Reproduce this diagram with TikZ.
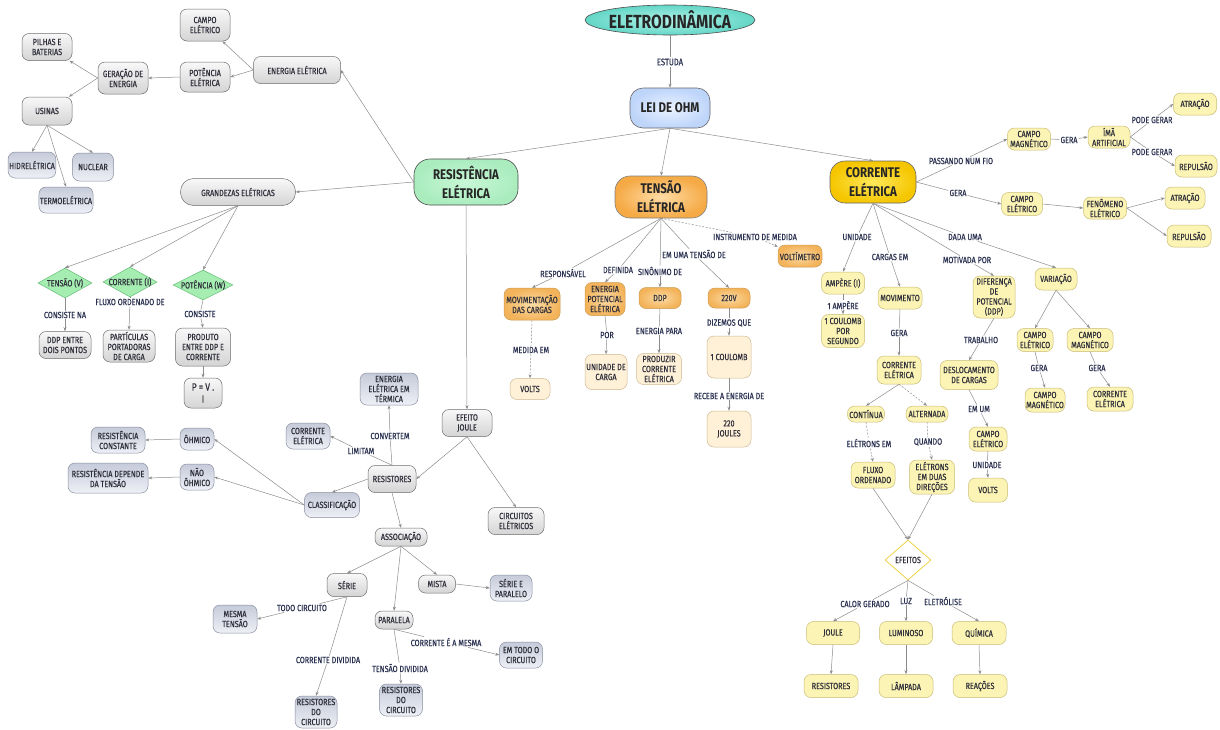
\documentclass[tikz,border=0pt]{standalone}
\usepackage{fontspec}
\newfontfamily\hand{Fira Sans}[FakeStretch=0.8,FakeBold=0.35]
\newfontfamily\handb{Fira Sans}[FakeStretch=0.82]
\usetikzlibrary{shapes.geometric,arrows.meta}
\definecolor{txt}{HTML}{2E2F3A}
\definecolor{ltxt}{HTML}{2A3050}
\definecolor{lnc}{HTML}{8C8C8C}
\definecolor{gbd}{HTML}{6E6E6E}
\definecolor{gtop}{HTML}{F8F8F8}
\definecolor{gbot}{HTML}{D4D4D4}
\definecolor{bbd}{HTML}{8A8FA0}
\definecolor{btop}{HTML}{C6CBDA}
\definecolor{bbot}{HTML}{EEF0F6}
\definecolor{ybd}{HTML}{C9BC74}
\definecolor{yfill}{HTML}{FCF4B4}
\definecolor{obd}{HTML}{C99A50}
\definecolor{oin}{HTML}{FCDCA6}
\definecolor{oout}{HTML}{F3B35A}
\definecolor{cbd}{HTML}{CDB991}
\definecolor{cfill}{HTML}{FFF0D8}
\definecolor{gdia}{HTML}{A6EDB2}
\definecolor{gdiad}{HTML}{62BD75}
\definecolor{efd}{HTML}{F0D34A}
\definecolor{tealin}{HTML}{B4F3EA}
\definecolor{tealout}{HTML}{63D6C6}
\definecolor{bluein}{HTML}{EAF2FF}
\definecolor{blueout}{HTML}{BED5FA}
\definecolor{grnin}{HTML}{C8F8D6}
\definecolor{grnout}{HTML}{AAECBE}
\definecolor{orin}{HTML}{FFDCA5}
\definecolor{orout}{HTML}{F5AA46}
\definecolor{goldin}{HTML}{FFE85A}
\definecolor{goldout}{HTML}{F5C600}
\tikzset{
 base/.style={font=\hand\fontsize{9}{10}\selectfont, align=center, inner sep=1pt, text=txt, line width=0.5pt},
 gbox/.style={base, rounded corners=7pt, draw=gbd, top color=gtop, bottom color=gbot},
 bbox/.style={base, rounded corners=7pt, draw=bbd, top color=btop, bottom color=bbot},
 ybox/.style={base, rounded corners=7pt, draw=ybd, fill=yfill},
 obox/.style={base, rounded corners=7pt, draw=obd, inner color=oin, outer color=oout},
 cbox/.style={base, rounded corners=7pt, draw=cbd, fill=cfill},
 mainbox/.style={font=\handb\bfseries\fontsize{14}{19}\selectfont, align=center, text=black!85, inner sep=2pt, line width=0.6pt},
 dia/.style={diamond, draw=gdiad, fill=gdia, inner sep=0pt, line width=0.5pt},
 lbl/.style={font=\hand\fontsize{9}{10}\selectfont, text=ltxt, inner sep=1pt},
 ln/.style={draw=lnc, line width=0.5pt},
 arr/.style={ln, -{Stealth[length=4pt,width=3pt]}},
 dsh/.style={dash pattern=on 2pt off 1.5pt},
}
\newcommand\mkN[7]{\node[#1, minimum width=#5pt, minimum height=#6pt] (#2) at (#3,#4) {#7};}
\newcommand\mkL[4]{\node[lbl] (#1) at (#2,#3) {#4};}
\newcommand\mkE[3][]{\draw[arr,#1] (#2) -- (#3);}
\newcommand\mkEL[4][]{\draw[ln,#1] (#2) -- (#3); \draw[arr,#1] (#3) -- (#4);}
\begin{document}
\begin{tikzpicture}[x=1pt,y=-1pt]
\useasboundingbox[fill=white] (0,0) rectangle (1220,729);

% ---- main nodes
\node[ellipse, draw=black!70, line width=0.6pt, inner color=tealin, outer color=tealout, minimum width=170pt, minimum height=30pt, inner sep=0pt,
  label={[font=\handb\bfseries\fontsize{19}{20}\selectfont, text=black!85]center:ELETRODINÂMICA}] (eletro) at (670,20) {};
\node[mainbox, draw=black!60, rounded corners=13pt, inner color=bluein, outer color=blueout, minimum width=80pt, minimum height=40pt] (lei) at (670,108) {LEI DE OHM};
\node[mainbox, draw=black!70, rounded corners=16pt, inner color=grnin, outer color=grnout, minimum width=104pt, minimum height=46pt] (res) at (466,182) {RESISTÊNCIA\\ELÉTRICA};
\node[mainbox, draw=black!50, rounded corners=15pt, inner color=orin, outer color=orout, minimum width=92pt, minimum height=42pt] (ten) at (661,197) {TENSÃO\\ELÉTRICA};
\node[mainbox, draw=black!60, rounded corners=15pt, inner color=goldin, outer color=goldout, minimum width=86pt, minimum height=42pt] (cor) at (873,182) {CORRENTE\\ELÉTRICA};

% ---- top left
\mkN{gbox}{enel}{297}{70}{87}{27}{ENERGIA ELÉTRICA}
\mkN{gbox}{campo1}{205}{25}{50}{32}{CAMPO\\ELÉTRICO}
\mkN{gbox}{pot1}{205}{77}{50}{30}{POTÊNCIA\\ELÉTRICA}
\mkN{gbox}{ger}{123}{78}{50}{32}{GERAÇÃO DE\\ENERGIA}
\mkN{gbox}{pilhas}{47}{47}{50}{27}{PILHAS E\\BATERIAS}
\mkN{gbox}{usinas}{47}{111}{50}{28}{USINAS}
\mkN{bbox}{hid}{32}{165}{45}{26}{HIDRELÉTRICA}
\mkN{bbox}{nuc}{93}{167}{41}{28}{NUCLEAR}
\mkN{bbox}{termo}{66}{200}{43}{26}{TERMOELÉTRICA}
\mkN{gbox,rounded corners=13pt}{grand}{238}{192}{115}{27}{GRANDEZAS ELÉTRICAS}

\node[dia, minimum width=54pt, minimum height=30pt, label={[base]center:TENSÃO (V)}] (tv) at (65,283) {};
\node[dia, minimum width=54pt, minimum height=30pt, label={[base]center:CORRENTE (I)}] (ti) at (130,282) {};
\node[dia, minimum width=60pt, minimum height=30pt, label={[base]center:POTÊNCIA (W)}] (tw) at (203,285) {};
\mkN{gbox}{ddp2}{65}{345}{52}{27}{DDP ENTRE\\DOIS PONTOS}
\mkN{gbox}{part}{129}{346}{52}{32}{PARTÍCULAS\\PORTADORAS\\DE CARGA}
\mkN{gbox}{prod}{203}{347}{55}{38}{PRODUTO\\ENTRE DDP E\\CORRENTE}
\mkN{gbox,font=\hand\fontsize{10.5}{12}\selectfont}{pvi}{203}{393}{38}{30}{P = V .\\I}

% ---- lower left
\mkN{bbox}{rconst}{118}{440}{54}{26}{RESISTÊNCIA\\CONSTANTE}
\mkN{bbox}{ohm}{197}{439}{34}{22}{ÔHMICO}
\mkN{bbox}{rdep}{108}{478}{80}{30}{RESISTÊNCIA DEPENDE\\DA TENSÃO}
\mkN{bbox}{nohm}{197}{477}{34}{26}{NÃO\\ÔHMICO}
\mkN{bbox}{classif}{332}{505}{55}{25}{CLASSIFICAÇÃO}
\mkN{gbox}{resist}{392}{479}{48}{27}{RESISTORES}
\mkN{bbox}{eterm}{389}{389}{58}{32}{ENERGIA\\ELÉTRICA EM\\TÉRMICA}
\mkN{bbox}{cor2}{308}{436}{44}{26}{CORRENTE\\ELÉTRICA}
\mkN{gbox}{ejoule}{467}{423}{50}{27}{EFEITO\\JOULE}
\mkN{gbox}{circ}{516}{521}{56}{27}{CIRCUITOS\\ELÉTRICOS}
\mkN{gbox}{assoc}{401}{537}{52}{18}{ASSOCIAÇÃO}
\mkN{gbox}{serie}{347}{585}{40}{23}{SÉRIE}
\mkN{gbox}{mista}{437}{584}{37}{18}{MISTA}
\mkN{bbox}{sep}{511}{588}{42}{26}{SÉRIE E\\PARALELO}
\mkN{gbox}{paral}{394}{620}{38}{18}{PARALELA}
\mkN{bbox}{mtens}{235}{619}{44}{28}{MESMA\\TENSÃO}
\mkN{bbox}{rdca}{316}{712}{42}{32}{RESISTORES\\DO\\CIRCUITO}
\mkN{bbox}{emtodo}{521}{655}{43}{26}{EM TODO O\\CIRCUITO}
\mkN{bbox}{rdcb}{401}{700}{43}{32}{RESISTORES\\DO\\CIRCUITO}

% ---- tensão branch
\mkN{obox}{mov}{532}{304}{56}{32}{MOVIMENTAÇÃO\\DAS CARGAS}
\mkN{cbox}{voltsa}{530}{389}{40}{21}{VOLTS}
\mkN{obox}{epot}{605}{299}{40}{33}{ENERGIA\\POTENCIAL\\ELÉTRICA}
\mkN{cbox}{unid}{606}{372}{42}{35}{UNIDADE DE\\CARGA}
\mkN{obox}{ddp}{660}{298}{42}{21}{DDP}
\mkN{cbox}{prodz}{659}{369}{45}{31}{PRODUZIR\\CORRENTE\\ELÉTRICA}
\mkN{obox}{vdois}{729}{298}{42}{20}{220V}
\mkN{cbox}{coul}{729}{357}{44}{42}{1 COULOMB}
\mkN{cbox}{jdois}{729}{429}{44}{36}{220\\JOULES}
\mkN{obox}{voltim}{800}{256}{44}{22}{VOLTÍMETRO}

% ---- corrente branch
\mkN{ybox}{amp}{843}{283}{43}{22}{AMPÈRE (I)}
\mkN{ybox}{cps}{843}{331}{43}{33}{1 COULOMB\\POR\\SEGUNDO}
\mkN{ybox}{movi}{900}{298}{44}{22}{MOVIMENTO}
\mkN{ybox}{corc}{899}{370}{44}{28}{CORRENTE\\ELÉTRICA}
\mkN{ybox}{cont}{866}{414}{37}{16}{CONTÍNUA}
\mkN{ybox}{alt}{927}{414}{42}{16}{ALTERNADA}
\mkN{ybox}{fluxo}{873}{475}{44}{26}{FLUXO\\ORDENADO}
\mkN{ybox}{eldu}{932}{477}{45}{34}{ELÉTRONS\\EM DUAS\\DIREÇÕES}
\node[diamond, draw=efd, fill=white, line width=0.8pt, inner sep=0pt, minimum width=46pt, minimum height=40pt, label={[base]center:EFEITOS}] (efeitos) at (908,560) {};
\mkN{ybox}{joule}{833}{633}{53}{23}{JOULE}
\mkN{ybox}{lumin}{906}{633}{53}{23}{LUMINOSO}
\mkN{ybox}{quim}{979}{633}{54}{23}{QUÍMICA}
\mkN{ybox}{resisb}{831}{686}{54}{23}{RESISTORES}
\mkN{ybox}{lampd}{906}{686}{54}{23}{LÂMPADA}
\mkN{ybox}{reac}{980}{686}{54}{23}{REAÇÕES}
\mkN{ybox}{dif}{994}{297}{42}{42}{DIFERENÇA\\DE\\POTENCIAL\\(DDP)}
\mkN{ybox}{var}{1056}{279}{42}{22}{VARIAÇÃO}
\mkN{ybox}{desl}{969}{375}{58}{29}{DESLOCAMENTO\\DE CARGAS}
\mkN{ybox}{cec}{988}{439}{38}{24}{CAMPO\\ELÉTRICO}
\mkN{ybox}{voltsb}{988}{490}{39}{24}{VOLTS}
\mkN{ybox}{ced}{1035}{340}{36}{23}{CAMPO\\ELÉTRICO}
\mkN{ybox}{cmd}{1090}{340}{46}{23}{CAMPO\\MAGNÉTICO}
\mkN{ybox}{cme}{1045}{400}{40}{24}{CAMPO\\MAGNÉTICO}
\mkN{ybox}{cee}{1110}{399}{46}{24}{CORRENTE\\ELÉTRICA}
\mkN{ybox}{cma}{1029}{139}{43}{22}{CAMPO\\MAGNÉTICO}
\mkN{ybox}{ima}{1109}{137}{42}{22}{ÍMÃ\\ARTIFICIAL}
\mkN{ybox}{atra}{1195}{104}{43}{22}{ATRAÇÃO}
\mkN{ybox}{repa}{1196}{166}{42}{22}{REPULSÃO}
\mkN{ybox}{cea}{1022}{204}{41}{23}{CAMPO\\ELÉTRICO}
\mkN{ybox}{fen}{1105}{208}{43}{22}{FENÔMENO\\ELÉTRICO}
\mkN{ybox}{atrb}{1185}{198}{40}{22}{ATRAÇÃO}
\mkN{ybox}{repb}{1189}{236}{44}{22}{REPULSÃO}

% ---- link labels
\node[lbl, font=\hand\fontsize{9.5}{10}\selectfont] (estuda) at (670,62) {ESTUDA};
\mkL{lcna}{65}{315}{CONSISTE NA}
\mkL{lflx}{130}{302}{FLUXO ORDENADO DE}
\mkL{lcon}{200}{314}{CONSISTE}
\mkL{lconv}{390}{436}{CONVERTEM}
\mkL{llim}{361}{451}{LIMITAM}
\mkL{ltodo}{302}{608}{TODO CIRCUITO}
\mkL{lcdiv}{328}{660}{CORRENTE DIVIDIDA}
\mkL{lcmes}{446}{642}{CORRENTE É A MESMA}
\mkL{ltdiv}{400}{668}{TENSÃO DIVIDIDA}
\mkL{lresp}{563}{273}{RESPONSÁVEL}
\mkL{lmed}{531}{350}{MEDIDA EM}
\mkL{ldef}{618}{270}{DEFINIDA}
\mkL{lpor}{607}{335}{POR}
\mkL{lsin}{660}{271}{SINÔNIMO DE}
\mkL{lenp}{659}{331}{ENERGIA PARA}
\mkL{lemt}{694}{254}{EM UMA TENSÃO DE}
\mkL{ldiz}{729}{323}{DIZEMOS QUE}
\mkL{lrec}{729}{396}{RECEBE A ENERGIA DE}
\mkL{linst}{755}{237}{INSTRUMENTO DE MEDIDA}
\mkL{luna}{857}{237}{UNIDADE}
\mkL{lamper}{843}{305}{1 AMPÈRE}
\mkL{lcar}{890}{257}{CARGAS EM}
\mkL{lgera}{899}{333}{GERA}
\mkL{lele}{869}{443}{ELÉTRONS EM}
\mkL{lqua}{928}{442}{QUANDO}
\mkL{lcal}{865}{604}{CALOR GERADO}
\mkL{lluz}{906}{601}{LUZ}
\mkL{lelet}{943}{601}{ELETRÓLISE}
\mkL{ldada}{965}{237}{DADA UMA}
\mkL{lmot}{967}{260}{MOTIVADA POR}
\mkL{ltrab}{981}{340}{TRABALHO}
\mkL{lemum}{979}{409}{EM UM}
\mkL{lunb}{987}{465}{UNIDADE}
\mkL{lgerb}{1039}{368}{GERA}
\mkL{lgerc}{1097}{368}{GERA}
\mkL{lpas}{961}{161}{PASSANDO NUM FIO}
\mkL{lgerd}{1069}{140}{GERA}
\mkL{lpoda}{1152}{120}{PODE GERAR}
\mkL{lpodb}{1152}{152}{PODE GERAR}
\mkL{lgere}{958}{193}{GERA}

% ---- connectors
\mkEL{eletro.south}{estuda}{lei.north}
\mkE{lei.south}{res.north}
\mkE{lei.south}{ten.north}
\mkE{lei.south}{cor.north}
% resistencia
\mkE{res.west}{enel.east}
\mkE{enel.west}{campo1}
\mkE{enel.west}{pot1.east}
\mkE{pot1.west}{ger.east}
\mkE{ger.west}{pilhas}
\mkE{ger.west}{usinas}
\mkE{usinas.south}{hid.north}
\mkE{usinas.south}{nuc.north}
\mkE{usinas.south}{termo.north}
\mkE{res.west}{grand.east}
\mkE{grand.south}{tv.north}
\mkE{grand.south}{ti.north}
\mkE{grand.south}{tw.north}
\mkEL{tv.south}{lcna}{ddp2.north}
\mkEL{ti.south}{lflx}{part.north}
\mkEL{tw.south}{lcon}{prod.north}
\mkE{prod.south}{pvi.north}
\mkE{res.south}{ejoule.north}
\mkE{ejoule.south}{resist.east}
\mkE{ejoule.south}{circ.north}
\mkEL{resist.north}{lconv}{eterm.south}
\mkEL{resist.north}{llim}{cor2.east}
\mkE{resist.west}{classif.north}
\mkE{classif.west}{ohm.east}
\mkE{classif.west}{nohm.east}
\mkE{ohm.west}{rconst.east}
\mkE{nohm.west}{rdep.east}
\mkE{resist.south}{assoc.north}
\mkE{assoc.south}{serie.north}
\mkE{assoc.south}{mista.north}
\mkE{assoc.south}{paral.north}
\mkE{mista.east}{sep.west}
\mkEL{serie.south}{ltodo}{mtens.east}
\mkEL{serie.south}{lcdiv}{rdca.north}
\mkEL{paral.south}{lcmes}{emtodo.west}
\mkEL{paral.south}{ltdiv}{rdcb.north}
% tensao
\mkEL{ten.south}{lresp}{mov.north}
\mkEL[dsh]{mov.south}{lmed}{voltsa.north}
\mkEL{ten.south}{ldef}{epot.north}
\mkEL{epot.south}{lpor}{unid.north}
\mkEL{ten.south}{lsin}{ddp.north}
\mkEL{ddp.south}{lenp}{prodz.north}
\mkEL{ten.south}{lemt}{vdois.north}
\mkEL{vdois.south}{ldiz}{coul.north}
\mkEL{coul.south}{lrec}{jdois.north}
\mkEL[dsh]{ten.south}{linst}{voltim}
% corrente
\mkEL{cor.south}{luna}{amp.north}
\mkEL{amp.south}{lamper}{cps.north}
\mkEL{cor.south}{lcar}{movi.north}
\mkEL{movi.south}{lgera}{corc.north}
\mkE{corc.south}{cont.north}
\mkE[dsh]{corc.south}{alt.north}
\mkEL[dsh]{cont.south}{lele}{fluxo.north}
\mkEL[dsh]{alt.south}{lqua}{eldu.north}
\mkE{fluxo.south}{efeitos.north}
\mkE{eldu.south}{efeitos.north}
\mkEL{efeitos.south}{lcal}{joule.north}
\mkEL{efeitos.south}{lluz}{lumin.north}
\mkEL{efeitos.south}{lelet}{quim.north}
\mkE{joule.south}{resisb.north}
\mkE{lumin.south}{lampd.north}
\mkE{quim.south}{reac.north}
\mkEL{cor.south}{lmot}{dif.north}
\mkEL{cor.south}{ldada}{var.north}
\mkEL{dif.south}{ltrab}{desl.north}
\mkEL{desl.south}{lemum}{cec.north}
\mkEL{cec.south}{lunb}{voltsb.north}
\mkE{var.south}{ced.north}
\mkE{var.south}{cmd.north}
\mkEL{ced.south}{lgerb}{cme.north}
\mkEL{cmd.south}{lgerc}{cee.north}
\mkEL{cor.east}{lpas}{cma.west}
\mkEL{cma.east}{lgerd}{ima.west}
\mkEL{ima.east}{lpoda}{atra.west}
\mkEL{ima.east}{lpodb}{repa.west}
\mkEL{cor.east}{lgere}{cea.west}
\mkE{cea.east}{fen.west}
\mkE{fen.east}{atrb.west}
\mkE{fen.east}{repb.west}
\end{tikzpicture}
\end{document}
